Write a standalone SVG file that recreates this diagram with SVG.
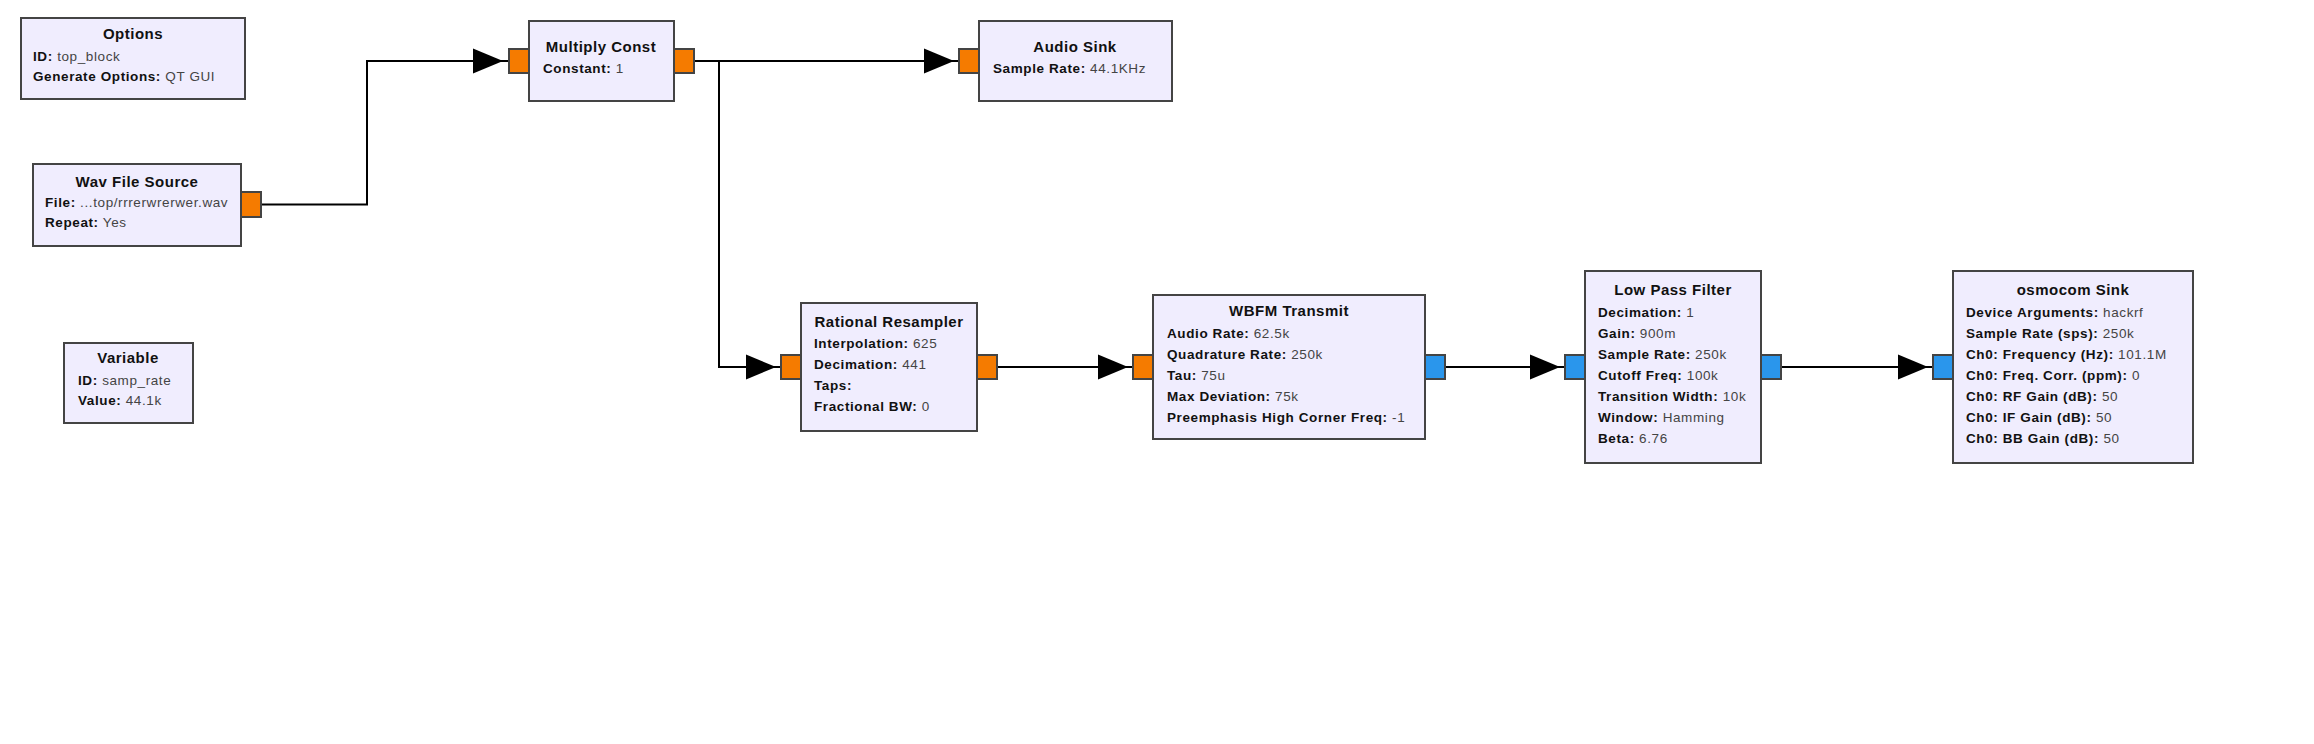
<svg xmlns="http://www.w3.org/2000/svg" width="2314" height="744" viewBox="0 0 2314 744">
<style>
.blk{fill:#F0EDFE;stroke:#444;stroke-width:2}
.po{fill:#F57B00;stroke:#444;stroke-width:2}
.pb{fill:#2A96EC;stroke:#444;stroke-width:2}
.t{font-family:"Liberation Sans",Arial,sans-serif;font-size:15px;font-weight:bold;fill:#111;text-anchor:middle;letter-spacing:0.5px}
.l{font-family:"Liberation Sans",Arial,sans-serif;font-size:13.5px;letter-spacing:0.6px;fill:#111}
.k{font-weight:bold;fill:#111}
.v{font-weight:normal;fill:#444}
.w{fill:none;stroke:#000;stroke-width:2}
.a{fill:#000}
</style>
<rect width="2314" height="744" fill="#fff"/>
<g id="connectors">
<path class="w" d="M261,204.5 H367 V61 H509"/>
<polygon class="a" points="473,48.5 503,61 473,73.5"/>
<path class="w" d="M694,61 H959"/>
<polygon class="a" points="924,48.5 954,61 924,73.5"/>
<path class="w" d="M694,61 H719 V367 H781"/>
<polygon class="a" points="746,354.5 776,367 746,379.5"/>
<path class="w" d="M997,367 H1133"/>
<polygon class="a" points="1098,354.5 1128,367 1098,379.5"/>
<path class="w" d="M1445,367 H1565"/>
<polygon class="a" points="1530,354.5 1560,367 1530,379.5"/>
<path class="w" d="M1781,367 H1933"/>
<polygon class="a" points="1898,354.5 1928,367 1898,379.5"/>
</g>
<g id="options">
<rect class="blk" x="21" y="18" width="224" height="81"/>
<text class="t" x="133" y="39">Options</text>
<text class="l" x="33" y="61"><tspan class="k">ID:</tspan><tspan class="v"> top_block</tspan></text>
<text class="l" x="33" y="81"><tspan class="k">Generate Options:</tspan><tspan class="v"> QT GUI</tspan></text>
</g>
<g id="wav_file_source">
<rect class="blk" x="33" y="164" width="208" height="82"/>
<rect class="po" x="241" y="192" width="20" height="25"/>
<text class="t" x="137" y="187">Wav File Source</text>
<text class="l" x="45" y="207"><tspan class="k">File:</tspan><tspan class="v"> ...top/rrrerwrerwer.wav</tspan></text>
<text class="l" x="45" y="227"><tspan class="k">Repeat:</tspan><tspan class="v"> Yes</tspan></text>
</g>
<g id="variable">
<rect class="blk" x="64" y="343" width="129" height="80"/>
<text class="t" x="128" y="363">Variable</text>
<text class="l" x="78" y="385"><tspan class="k">ID:</tspan><tspan class="v"> samp_rate</tspan></text>
<text class="l" x="78" y="405"><tspan class="k">Value:</tspan><tspan class="v"> 44.1k</tspan></text>
</g>
<g id="multiply_const">
<rect class="blk" x="529" y="21" width="145" height="80"/>
<rect class="po" x="509" y="49" width="20" height="24"/>
<rect class="po" x="674" y="49" width="20" height="24"/>
<text class="t" x="601" y="52">Multiply Const</text>
<text class="l" x="543" y="73"><tspan class="k">Constant:</tspan><tspan class="v"> 1</tspan></text>
</g>
<g id="audio_sink">
<rect class="blk" x="979" y="21" width="193" height="80"/>
<rect class="po" x="959" y="49" width="20" height="24"/>
<text class="t" x="1075" y="52">Audio Sink</text>
<text class="l" x="993" y="73"><tspan class="k">Sample Rate:</tspan><tspan class="v"> 44.1KHz</tspan></text>
</g>
<g id="rational_resampler">
<rect class="blk" x="801" y="303" width="176" height="128"/>
<rect class="po" x="781" y="355" width="20" height="24"/>
<rect class="po" x="977" y="355" width="20" height="24"/>
<text class="t" x="889" y="327">Rational Resampler</text>
<text class="l" x="814" y="348"><tspan class="k">Interpolation:</tspan><tspan class="v"> 625</tspan></text>
<text class="l" x="814" y="369"><tspan class="k">Decimation:</tspan><tspan class="v"> 441</tspan></text>
<text class="l" x="814" y="390"><tspan class="k">Taps:</tspan></text>
<text class="l" x="814" y="411"><tspan class="k">Fractional BW:</tspan><tspan class="v"> 0</tspan></text>
</g>
<g id="wbfm_transmit">
<rect class="blk" x="1153" y="295" width="272" height="144"/>
<rect class="po" x="1133" y="355" width="20" height="24"/>
<rect class="pb" x="1425" y="355" width="20" height="24"/>
<text class="t" x="1289" y="316">WBFM Transmit</text>
<text class="l" x="1167" y="338"><tspan class="k">Audio Rate:</tspan><tspan class="v"> 62.5k</tspan></text>
<text class="l" x="1167" y="359"><tspan class="k">Quadrature Rate:</tspan><tspan class="v"> 250k</tspan></text>
<text class="l" x="1167" y="380"><tspan class="k">Tau:</tspan><tspan class="v"> 75u</tspan></text>
<text class="l" x="1167" y="401"><tspan class="k">Max Deviation:</tspan><tspan class="v"> 75k</tspan></text>
<text class="l" x="1167" y="422"><tspan class="k">Preemphasis High Corner Freq:</tspan><tspan class="v"> -1</tspan></text>
</g>
<g id="low_pass_filter">
<rect class="blk" x="1585" y="271" width="176" height="192"/>
<rect class="pb" x="1565" y="355" width="20" height="24"/>
<rect class="pb" x="1761" y="355" width="20" height="24"/>
<text class="t" x="1673" y="295">Low Pass Filter</text>
<text class="l" x="1598" y="317"><tspan class="k">Decimation:</tspan><tspan class="v"> 1</tspan></text>
<text class="l" x="1598" y="338"><tspan class="k">Gain:</tspan><tspan class="v"> 900m</tspan></text>
<text class="l" x="1598" y="359"><tspan class="k">Sample Rate:</tspan><tspan class="v"> 250k</tspan></text>
<text class="l" x="1598" y="380"><tspan class="k">Cutoff Freq:</tspan><tspan class="v"> 100k</tspan></text>
<text class="l" x="1598" y="401"><tspan class="k">Transition Width:</tspan><tspan class="v"> 10k</tspan></text>
<text class="l" x="1598" y="422"><tspan class="k">Window:</tspan><tspan class="v"> Hamming</tspan></text>
<text class="l" x="1598" y="443"><tspan class="k">Beta:</tspan><tspan class="v"> 6.76</tspan></text>
</g>
<g id="osmocom_sink">
<rect class="blk" x="1953" y="271" width="240" height="192"/>
<rect class="pb" x="1933" y="355" width="20" height="24"/>
<text class="t" x="2073" y="295">osmocom Sink</text>
<text class="l" x="1966" y="317"><tspan class="k">Device Arguments:</tspan><tspan class="v"> hackrf</tspan></text>
<text class="l" x="1966" y="338"><tspan class="k">Sample Rate (sps):</tspan><tspan class="v"> 250k</tspan></text>
<text class="l" x="1966" y="359"><tspan class="k">Ch0: Frequency (Hz):</tspan><tspan class="v"> 101.1M</tspan></text>
<text class="l" x="1966" y="380"><tspan class="k">Ch0: Freq. Corr. (ppm):</tspan><tspan class="v"> 0</tspan></text>
<text class="l" x="1966" y="401"><tspan class="k">Ch0: RF Gain (dB):</tspan><tspan class="v"> 50</tspan></text>
<text class="l" x="1966" y="422"><tspan class="k">Ch0: IF Gain (dB):</tspan><tspan class="v"> 50</tspan></text>
<text class="l" x="1966" y="443"><tspan class="k">Ch0: BB Gain (dB):</tspan><tspan class="v"> 50</tspan></text>
</g>
</svg>
